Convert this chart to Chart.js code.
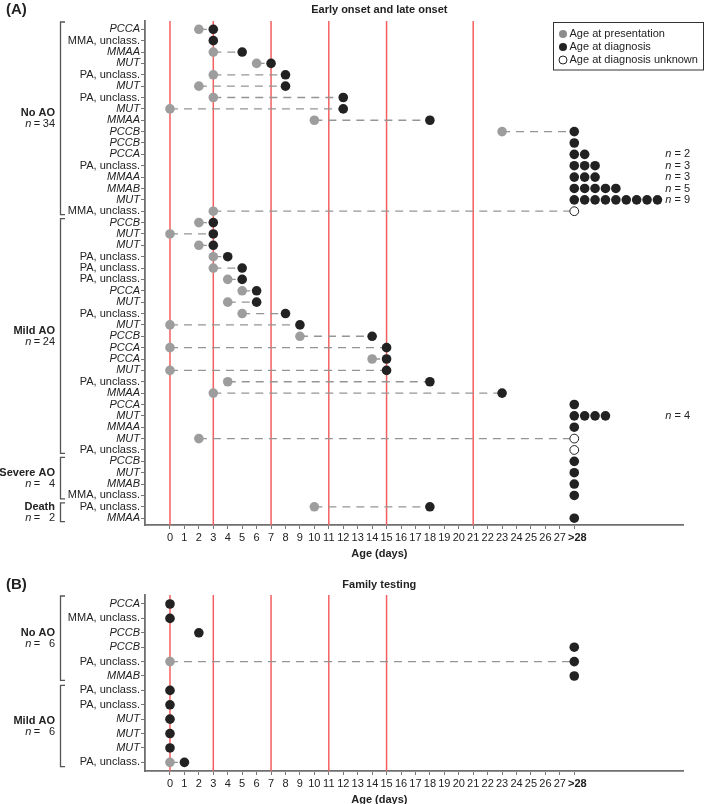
<!DOCTYPE html>
<html>
<head>
<meta charset="utf-8">
<script src="https://cdn.jsdelivr.net/npm/chart.js@4.4.0/dist/chart.umd.min.js"></script>
<style>
body { margin: 0; background: #fff; }
#wrap { position: relative; width: 709px; height: 804px; }
canvas { position: absolute; left: 0; }
</style>
</head>
<body>
<div id="wrap">
  <canvas id="chartA" width="709" height="565" style="top:0px"></canvas>
  <canvas id="chartB" width="709" height="239" style="top:565px"></canvas>
</div>
<script>
const FONT = "'Liberation Sans', Arial, Helvetica, sans-serif";
const GT28 = 28;   // the ">28" column sits at x = 28
const xTicks = [0,1,2,3,4,5,6,7,8,9,10,11,12,13,14,15,16,17,18,19,20,21,22,23,24,25,26,27,28];

// ---- panel A: early onset and late onset ----
const labelsA = [
  'PCCA','MMA, unclass.','MMAA','MUT','PA, unclass.','MUT','PA, unclass.','MUT','MMAA','PCCB','PCCB','PCCA','PA, unclass.','MMAA','MMAB','MUT','MMA, unclass.',
  'PCCB','MUT','MUT','PA, unclass.','PA, unclass.','PA, unclass.','PCCA','MUT','PA, unclass.','MUT','PCCB','PCCA','PCCA','MUT','PA, unclass.','MMAA','PCCA','MUT','MMAA','MUT','PA, unclass.',
  'PCCB','MUT','MMAB','MMA, unclass.',
  'PA, unclass.','MMAA'
];
const presA = [
  2,null,3,6,3,2,3,0,10,23,null,null,null,null,null,null,3,
  2,0,2,3,3,4,5,4,5,0,9,0,14,0,4,3,null,null,null,2,null,
  null,null,null,null,
  10,null
];
const diagA = [
  3,3,5,7,8,8,12,12,18,GT28,GT28,GT28,GT28,GT28,GT28,GT28,null,
  3,3,3,4,5,5,6,6,8,9,14,15,15,15,18,23,GT28,GT28,GT28,null,null,
  GT28,GT28,GT28,GT28,
  18,GT28
];
const countA = [
  1,1,1,1,1,1,1,1,1,1,1,2,3,3,5,9,1,
  1,1,1,1,1,1,1,1,1,1,1,1,1,1,1,1,1,4,1,1,1,
  1,1,1,1,
  1,1
];
const unknownRowsA = [17, 37, 38];
const groupNamesA = ['No AO', 'Mild AO', 'Severe AO', 'Death'];
const groupNA = [34, 24, 4, 2];
const groupRowsA = [17, 21, 4, 2];
const redLinesA = [0, 3, 7, 11, 15, 21];

// ---- panel B: family testing ----
const labelsB = ['PCCA','MMA, unclass.','PCCB','PCCB','PA, unclass.','MMAB','PA, unclass.','PA, unclass.','MUT','MUT','MUT','PA, unclass.'];
const presB = [null,null,null,null,0,null,null,null,null,null,null,0];
const diagB = [0,0,2,GT28,GT28,GT28,0,0,0,0,0,1];
const countB = [1,1,1,1,1,1,1,1,1,1,1,1];
const unknownRowsB = [];
const groupNamesB = ['No AO', 'Mild AO'];
const groupNB = [6, 6];
const groupRowsB = [6, 6];
const redLinesB = [0, 3, 7, 11, 15];

const stackStep = 0.72;   // spacing of stacked dots in the >28 column (days)
const GREY = '#9d9d9d';
const DARK = '#222';

function isGene(label) { return label.indexOf(',') < 0; }

function buildDatasets(labels, pres, diag, count, unknownRows) {
  const presPts = [], diagPts = [], unkPts = [], conns = [];
  for (let i = 0; i < labels.length; i++) {
    const r = i + 1;
    const unk = unknownRows.includes(r);
    if (pres[i] !== null) presPts.push({x: pres[i], y: r});
    if (diag[i] !== null) {
      for (let k = 0; k < count[i]; k++) diagPts.push({x: diag[i] + k * stackStep, y: r});
    }
    if (unk) unkPts.push({x: GT28, y: r});
    if (pres[i] !== null) {
      const end = unk ? GT28 : diag[i];
      if (end !== null && end !== pres[i]) {
        conns.push({
          data: [{x: pres[i], y: r}, {x: end, y: r}],
          showLine: true, borderColor: '#959595', borderWidth: 1.3, borderDash: [8, 6],
          pointRadius: 0, order: 5
        });
      }
    }
  }
  return [
    {label: 'Age at diagnosis', data: diagPts, pointRadius: 4.8, backgroundColor: DARK, borderWidth: 0, order: 0},
    {label: 'Age at diagnosis unknown', data: unkPts, pointRadius: 4.4, backgroundColor: '#fff', borderColor: DARK, borderWidth: 1, order: 0},
    {label: 'Age at presentation', data: presPts, pointRadius: 4.8, backgroundColor: GREY, borderWidth: 0, order: 1}
  ].concat(conns);
}

function drawN(ctx, n, xr, y) {
  // "n = 34" right aligned, italic n
  ctx.textAlign = 'right';
  ctx.font = '11px ' + FONT;
  ctx.fillText(String(n), xr, y);
  const numW = ctx.measureText('34').width;
  ctx.fillText('=', xr - numW - 2.5, y);
  const eqW = ctx.measureText('=').width;
  ctx.font = 'italic 11px ' + FONT;
  ctx.fillText('n', xr - numW - 2.5 - eqW - 2.5, y);
}

function decorPlugin(p) {
  return {
    id: 'decor',
    beforeDatasetsDraw(chart) {
      const {ctx, chartArea, scales: {x}} = chart;
      ctx.save();
      ctx.strokeStyle = '#f35f5f';
      ctx.lineWidth = 1.5;
      p.redLines.forEach(v => {
        const px = x.getPixelForValue(v);
        ctx.beginPath();
        ctx.moveTo(px, chartArea.top);
        ctx.lineTo(px, chartArea.bottom);
        ctx.stroke();
      });
      ctx.restore();
    },
    afterDraw(chart) {
      const {ctx, chartArea, scales: {x, y}} = chart;
      ctx.save();
      ctx.fillStyle = DARK;
      ctx.textBaseline = 'middle';

      // panel letter and titles
      ctx.textAlign = 'left';
      ctx.font = 'bold 15px ' + FONT;
      ctx.fillText(p.letter, 6, p.titleY);
      ctx.textAlign = 'center';
      ctx.font = 'bold 11px ' + FONT;
      const cx = x.getPixelForValue(14.5);
      ctx.fillText(p.title, cx, p.titleY);
      ctx.fillText('Age (days)', cx, chartArea.bottom + 29);

      // group brackets + labels
      const bx = chartArea.left - 84.5;
      const lx = chartArea.left - 90;
      let start = 1;
      p.groupRows.forEach((size, i) => {
        const first = start, last = start + size - 1;
        let top = y.getPixelForValue(first - 0.35);
        if (i === 0) top = Math.max(chartArea.top + 1, y.getPixelForValue(first - 0.7));
        const bot = y.getPixelForValue(last + 0.3);
        ctx.strokeStyle = '#555';
        ctx.lineWidth = 1.3;
        ctx.beginPath();
        ctx.moveTo(bx + 4.5, top);
        ctx.lineTo(bx, top);
        ctx.lineTo(bx, bot);
        ctx.lineTo(bx + 4.5, bot);
        ctx.stroke();
        const mid = (top + bot) / 2;
        ctx.textAlign = 'right';
        ctx.font = 'bold 11px ' + FONT;
        ctx.fillText(p.groupNames[i], lx, mid - 5.5);
        drawN(ctx, p.groupN[i], lx, mid + 5.5);
        start += size;
      });

      // n = k next to stacked dots
      const nx = x.getPixelForValue(34.3);
      p.count.forEach((c, i) => {
        if (c < 2) return;
        const py = y.getPixelForValue(i + 1);
        ctx.textAlign = 'left';
        ctx.font = 'italic 11px ' + FONT;
        ctx.fillText('n', nx, py);
        const w = ctx.measureText('n').width;
        ctx.font = '11px ' + FONT;
        ctx.fillText(' = ' + c, nx + w, py);
      });

      // legend box
      if (p.legend) {
        ctx.strokeStyle = '#333';
        ctx.lineWidth = 1;
        ctx.strokeRect(553.5, 22.5, 150, 47.5);
        const items = [
          {text: 'Age at presentation', fill: '#8c8c8c', stroke: null},
          {text: 'Age at diagnosis', fill: DARK, stroke: null},
          {text: 'Age at diagnosis unknown', fill: '#fff', stroke: DARK}
        ];
        items.forEach((it, k) => {
          const iy = 34 + k * 13;
          ctx.beginPath();
          ctx.arc(563, iy, 4, 0, Math.PI * 2);
          ctx.fillStyle = it.fill;
          ctx.fill();
          if (it.stroke) { ctx.strokeStyle = it.stroke; ctx.lineWidth = 1; ctx.stroke(); }
          ctx.fillStyle = DARK;
          ctx.textAlign = 'left';
          ctx.font = '11px ' + FONT;
          ctx.fillText(it.text, 569.5, iy);
        });
      }
      ctx.restore();
    }
  };
}

function makePanel(id, p) {
  const n = p.labels.length;
  const canvas = document.getElementById(id);
  return new Chart(canvas.getContext('2d'), {
    type: 'scatter',
    data: { datasets: buildDatasets(p.labels, p.pres, p.diag, p.count, p.unknownRows) },
    options: {
      responsive: false,
      animation: false,
      devicePixelRatio: 1,
      events: [],
      layout: { padding: { left: 0, right: 26, top: p.areaTop, bottom: 0 } },
      plugins: { legend: { display: false }, tooltip: { enabled: false } },
      scales: {
        x: {
          type: 'linear', min: -1.73, max: 35.53,
          afterBuildTicks: (axis) => { axis.ticks = xTicks.map(v => ({value: v})); },
          afterFit: (axis) => { axis.height = canvas.height - p.areaBottom; },
          ticks: {
            autoSkip: false, maxRotation: 0, minRotation: 0, padding: 2, color: DARK,
            callback: (v) => v === GT28 ? '  >28' : String(v),
            font: (c) => ({ family: FONT, size: 11, weight: (c.tick && c.tick.value === GT28) ? 'bold' : 'normal' })
          },
          grid: { drawOnChartArea: false, drawTicks: true, tickLength: 4, color: '#777', lineWidth: 1 },
          border: { display: true, color: '#6f6f6f', width: 1.8 }
        },
        y: {
          type: 'linear', reverse: true, min: 1 - p.padTop, max: n + p.padBottom,
          afterBuildTicks: (axis) => { axis.ticks = p.labels.map((l, i) => ({value: i + 1})); },
          afterFit: (axis) => { axis.width = 145; },
          ticks: {
            autoSkip: false, padding: 1, color: DARK,
            callback: (v) => p.labels[v - 1] || '',
            font: (c) => {
              const lab = c.tick ? p.labels[c.tick.value - 1] : '';
              return { family: FONT, size: 11, style: (lab && isGene(lab)) ? 'italic' : 'normal' };
            }
          },
          grid: { drawOnChartArea: false, drawTicks: true, tickLength: 4, color: '#777', lineWidth: 1 },
          border: { display: true, color: '#6f6f6f', width: 1.8 }
        }
      }
    },
    plugins: [decorPlugin(p)]
  });
}

makePanel('chartA', {
  labels: labelsA, pres: presA, diag: diagA, count: countA, unknownRows: unknownRowsA,
  groupNames: groupNamesA, groupN: groupNA, groupRows: groupRowsA, redLines: redLinesA,
  letter: '(A)', title: 'Early onset and late onset', titleY: 10, legend: true,
  areaTop: 21, areaBottom: 525, padTop: 0.73, padBottom: 0.6
});

makePanel('chartB', {
  labels: labelsB, pres: presB, diag: diagB, count: countB, unknownRows: unknownRowsB,
  groupNames: groupNamesB, groupN: groupNB, groupRows: groupRowsB, redLines: redLinesB,
  letter: '(B)', title: 'Family testing', titleY: 20, legend: false,
  areaTop: 30, areaBottom: 206, padTop: 0.625, padBottom: 0.6
});
</script>
</body>
</html>
